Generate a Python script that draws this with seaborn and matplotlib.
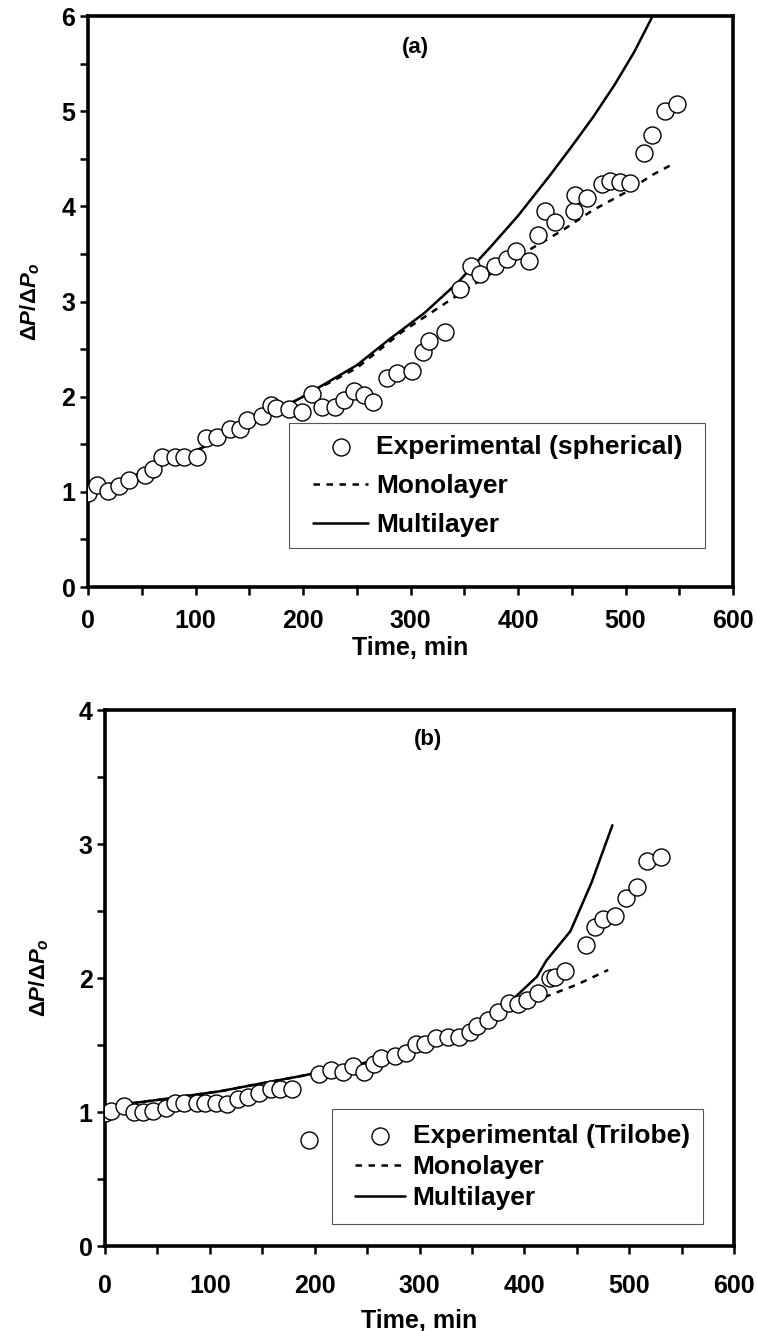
import numpy as np
import pandas as pd
import matplotlib
matplotlib.use("Agg")
import matplotlib.pyplot as plt
from matplotlib.ticker import MultipleLocator
from matplotlib.patches import Rectangle
import seaborn as sns

# ---------------- data: panel (a) spherical ----------------
a_exp_t = [0, 8, 18.6, 29, 38, 53, 60, 69, 81, 89, 101, 109.5, 120, 132, 141, 148,
           162, 170, 175, 187, 199, 208, 218, 229.5, 238, 247, 257, 265.5, 278, 287,
           301, 312, 317, 332, 346, 356, 365, 379, 389.5, 398, 410, 418.6, 424.8, 434,
           452, 452.7, 464.6, 478.5, 485.6, 495, 504, 517, 525, 537, 548]
a_exp_v = [0.99, 1.07, 1.005, 1.06, 1.12, 1.18, 1.235, 1.365, 1.365, 1.365, 1.365, 1.57,
           1.58, 1.66, 1.66, 1.755, 1.80, 1.91, 1.88, 1.87, 1.84, 2.03, 1.895, 1.895,
           1.97, 2.055, 2.02, 1.94, 2.20, 2.25, 2.27, 2.47, 2.59, 2.68, 3.13, 3.37, 3.29,
           3.37, 3.45, 3.535, 3.43, 3.70, 3.955, 3.835, 3.955, 4.12, 4.09, 4.23, 4.27,
           4.255, 4.25, 4.56, 4.75, 5.0, 5.075]
a_mono_t = [0, 50, 100, 150, 200, 250, 292, 359, 413, 441, 469, 499, 525, 545]
a_mono_v = [1.0, 1.2, 1.43, 1.7, 2.0, 2.3, 2.68, 3.18, 3.56, 3.745, 3.955, 4.14, 4.33, 4.45]
a_multi_t = [0, 50, 100, 150, 200, 250, 280, 313, 344, 375, 400, 430, 450, 470, 490, 508, 528]
a_multi_v = [1.0, 1.2, 1.43, 1.7, 2.0, 2.33, 2.6, 2.88, 3.2, 3.58, 3.9, 4.33, 4.63, 4.94, 5.28, 5.62, 6.06]

# ---------------- data: panel (b) trilobe ----------------
b_exp_t = [0, 5.7, 18.4, 28, 36.6, 46.1, 58.2, 66.8, 75.4, 87.5, 95.4, 105.6, 116.7,
           127.2, 136.8, 147.3, 158.1, 167, 178.7, 195, 204.2, 215.6, 227.4, 236.3, 247.5,
           257, 263.4, 276.7, 286.9, 296.4, 305, 316, 327, 338, 348, 355, 365, 375, 385,
           394.4, 402.4, 413.5, 424.6, 429.4, 438.9, 459, 467.6, 475.5, 486.6, 497.1,
           507.9, 516.9, 530.2]
b_exp_v = [0.995, 1.007, 1.045, 1.003, 1.003, 1.007, 1.032, 1.065, 1.065, 1.065, 1.065,
           1.065, 1.06, 1.095, 1.115, 1.145, 1.17, 1.17, 1.17, 0.79, 1.28, 1.31, 1.30, 1.34,
           1.30, 1.36, 1.40, 1.42, 1.44, 1.505, 1.51, 1.55, 1.56, 1.56, 1.60, 1.64, 1.69,
           1.75, 1.81, 1.805, 1.835, 1.885, 2.0, 2.01, 2.055, 2.25, 2.38, 2.44, 2.46, 2.60,
           2.68, 2.87, 2.905]
b_mono_t = [25, 50, 110, 140, 188, 250, 300, 350, 390, 420, 450, 480]
b_mono_v = [1.065, 1.09, 1.155, 1.2, 1.27, 1.37, 1.49, 1.62, 1.78, 1.86, 1.95, 2.06]
b_multi_t = [25, 50, 110, 140, 188, 250, 300, 350, 380, 393, 412, 421, 444, 464, 484]
b_multi_v = [1.065, 1.09, 1.155, 1.2, 1.27, 1.37, 1.49, 1.62, 1.74, 1.87, 2.01, 2.13, 2.35, 2.71, 3.14]

sns.set_style("ticks")
plt.rcParams['font.family'] = ['Liberation Sans', 'DejaVu Sans']
plt.rcParams['font.weight'] = 'bold'
for k in ['text.color', 'axes.labelcolor', 'xtick.color', 'ytick.color', 'axes.edgecolor']:
    plt.rcParams[k] = 'black'
plt.rcParams['mathtext.fontset'] = 'custom'
plt.rcParams['mathtext.rm'] = 'Liberation Sans:bold'
plt.rcParams['mathtext.it'] = 'Liberation Sans:italic:bold'
plt.rcParams['mathtext.bf'] = 'Liberation Sans:bold'

W, H = 757, 1331
fig = plt.figure(figsize=(W / 100, H / 100), dpi=100)


def px_axes(l, t, r, b):
    return fig.add_axes([l / W, 1 - b / H, (r - l) / W, (b - t) / H])


ax1 = px_axes(88, 16, 733, 587)
ax2 = px_axes(105, 710, 734, 1246)

FS = 18
LFS = 19


def draw(ax, et, ev, mt, mv, lt, lv, exp_label, ymax, panel, ppos,
         xpad, xlabelpad, ylabelpad, box, leg_left, leg_mid, labelspacing, hlen):
    dfe = pd.DataFrame({'t': et, 'v': ev})
    dfm = pd.DataFrame({'t': mt, 'v': mv})
    dfl = pd.DataFrame({'t': lt, 'v': lv})
    sns.lineplot(data=dfm, x='t', y='v', ax=ax, color='black', lw=1.8,
                 linestyle=(0, (2.6, 2.6)), label='Monolayer', sort=False,
                 estimator=None, zorder=2)
    sns.lineplot(data=dfl, x='t', y='v', ax=ax, color='black', lw=1.8,
                 label='Multilayer', sort=False, estimator=None, zorder=2)
    sns.scatterplot(data=dfe, x='t', y='v', ax=ax, s=150, marker='o',
                    facecolor='white', edgecolor='black', linewidth=1.0,
                    label=exp_label, zorder=3)
    h, l = ax.get_legend_handles_labels()
    if ax.get_legend() is not None:
        ax.get_legend().remove()
    ax.set_xlim(0, 600)
    ax.set_ylim(0, ymax)
    ax.xaxis.set_major_locator(MultipleLocator(100))
    ax.xaxis.set_minor_locator(MultipleLocator(50))
    ax.yaxis.set_major_locator(MultipleLocator(1))
    ax.yaxis.set_minor_locator(MultipleLocator(0.5))
    ax.tick_params(which='both', direction='out', width=1.8, color='black', length=6)
    ax.tick_params(axis='x', pad=xpad, labelsize=FS)
    ax.tick_params(axis='y', pad=3, labelsize=FS)
    for sp in ax.spines.values():
        sp.set_linewidth(2.6)
        sp.set_color('black')
        sp.set_visible(True)
    ax.set_xlabel('Time, min', fontsize=FS, fontweight='bold', labelpad=xlabelpad)
    ax.set_ylabel(r'$\mathit{\Delta P/\Delta P_o}$', fontsize=16, labelpad=ylabelpad)
    ax.text(panel[0], panel[1], ppos, fontsize=16, fontweight='bold',
            ha='center', va='center')
    # legend frame drawn as a separate box
    l0, t0, r0, b0 = box
    fig.patches.append(Rectangle((l0 / W, 1 - b0 / H), (r0 - l0) / W, (b0 - t0) / H,
                                 transform=fig.transFigure, facecolor='white',
                                 edgecolor='#555555', linewidth=0.8, zorder=5))
    order = [2, 0, 1]
    leg = fig.legend([h[i] for i in order], [l[i] for i in order],
                     loc='center left', bbox_to_anchor=(leg_left / W, 1 - leg_mid / H),
                     borderaxespad=0, borderpad=0, frameon=False,
                     prop={'weight': 'bold', 'size': LFS},
                     handlelength=hlen, handletextpad=0.28,
                     labelspacing=labelspacing)
    leg.set_zorder(6)


draw(ax1, a_exp_t, a_exp_v, a_mono_t, a_mono_v, a_multi_t, a_multi_v,
     'Experimental (spherical)', 6, (305, 5.67), '(a)',
     10, 2, 14, (289, 423, 705, 548), 313, 486, 0.58, 2.1)
draw(ax2, b_exp_t, b_exp_v, b_mono_t, b_mono_v, b_multi_t, b_multi_v,
     'Experimental (Trilobe)', 4, (308, 3.78), '(b)',
     14, 8, 20, (332, 1109, 703, 1224), 355, 1167, 0.28, 1.9)

fig.savefig('out.png', dpi=100)
